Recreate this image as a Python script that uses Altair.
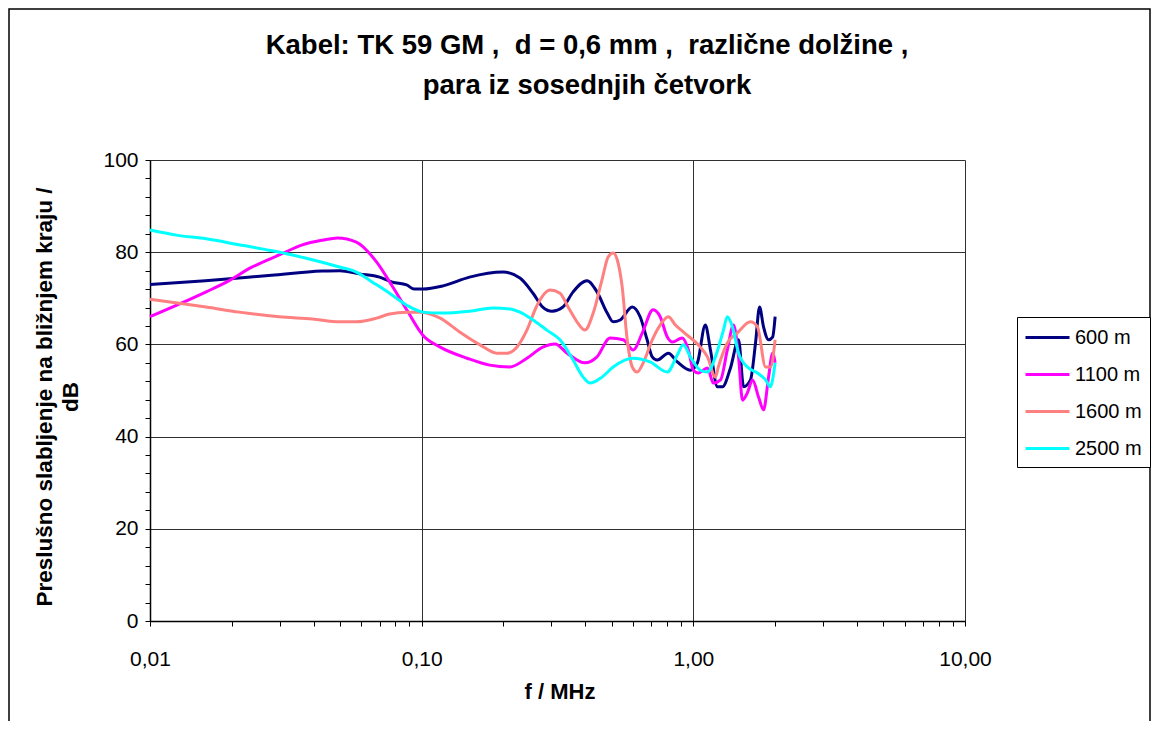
import altair as alt
import pandas as pd

FONT = "Liberation Sans"

names = ["600 m", "1100 m", "1600 m", "2500 m"]
colors = ["#000080", "#FF00FF", "#FF8080", "#00FFFF"]

f600 = [0.010, 0.016, 0.028, 0.043, 0.050, 0.059, 0.070, 0.078, 0.088, 0.094, 0.101, 0.120,
        0.150, 0.199, 0.230, 0.257, 0.279, 0.302, 0.331, 0.361, 0.406, 0.442, 0.482, 0.507,
        0.538, 0.596, 0.637, 0.676, 0.706, 0.736, 0.809, 0.873, 0.975, 1.035, 1.107, 1.156,
        1.227, 1.280, 1.370, 1.467, 1.531, 1.623, 1.694, 1.753, 1.813, 1.892, 1.958, 2.0]
v600 = [73, 73.8, 75, 75.9, 76, 75.3, 74.6, 73.5, 72.9, 72, 72, 72.7,
        74.6, 75.7, 74.4, 71.1, 68.1, 67.2, 68.1, 71.4, 73.8, 71.4, 66.8, 64.9,
        65.3, 68.1, 66, 61, 57.3, 56.6, 58.1, 56.2, 54.4, 56, 64.2, 58.8,
        50.8, 50.8, 54.9, 61, 50.8, 52.3, 60.3, 68.1, 63.8, 61, 61.6, 66]

f1100 = [0.010, 0.0131, 0.0161, 0.0191, 0.0238, 0.0299, 0.0364, 0.0431, 0.049, 0.0575,
         0.0682, 0.0782, 0.0881, 0.101, 0.117, 0.147, 0.178, 0.211, 0.244, 0.279,
         0.310, 0.343, 0.399, 0.442, 0.494, 0.552, 0.601, 0.649, 0.711, 0.755,
         0.802, 0.837, 0.910, 0.959, 1.000, 1.043, 1.127, 1.186, 1.259, 1.334,
         1.406, 1.467, 1.517, 1.581, 1.652, 1.738, 1.813, 1.892, 1.958, 2.0]
v1100 = [66, 69, 71.4, 73.5, 76.8, 79.4, 81.6, 82.6, 83.1, 82.2,
         77.9, 72.5, 67.5, 62, 59.4, 57, 55.5, 55.1, 57, 59.4,
         60.1, 58.1, 56, 57.3, 61.4, 61, 58.8, 62.5, 67.5, 66,
         61.6, 60.5, 61.4, 58.8, 54.4, 53.8, 54.9, 51.6, 52.3, 58.8,
         64.2, 57.3, 47.9, 49.5, 52.3, 48.6, 45.8, 52.9, 58.1, 56]

f1600 = [0.010, 0.0161, 0.0213, 0.0299, 0.0396, 0.0498, 0.0575, 0.0682, 0.0762, 0.0881,
         0.0983, 0.117, 0.138, 0.164, 0.189, 0.206, 0.224, 0.244, 0.266, 0.297,
         0.323, 0.346, 0.373, 0.399, 0.428, 0.461, 0.486, 0.507, 0.525, 0.547,
         0.571, 0.596, 0.621, 0.654, 0.706, 0.755, 0.809, 0.859, 0.918, 1.061,
         1.127, 1.206, 1.236, 1.334, 1.453, 1.623, 1.722, 1.845, 1.923, 2.0]
v1600 = [69.8, 68.1, 67, 66, 65.5, 64.9, 64.9, 65.7, 66.6, 67,
         67, 65.7, 62.7, 59.9, 58.1, 58.1, 59.4, 63.1, 68.5, 71.8,
         71.1, 68.1, 64.9, 63.1, 66.8, 74, 79, 79.8, 78.3, 72.5,
         61, 55.1, 54, 56, 61, 64.2, 66, 64.2, 62.7, 59.4,
         57.3, 52.9, 55.1, 60.3, 62.5, 64.9, 63.8, 55.1, 55.1, 61]

f2500 = [0.010, 0.0125, 0.0161, 0.0213, 0.0282, 0.0376, 0.0498, 0.0575, 0.0659, 0.0762,
         0.0881, 0.101, 0.117, 0.150, 0.183, 0.211, 0.230, 0.257, 0.289, 0.323,
         0.361, 0.393, 0.417, 0.461, 0.507, 0.601, 0.693, 0.802, 0.873, 0.918,
         0.975, 1.061, 1.127, 1.206, 1.291, 1.334, 1.393, 1.467, 1.581, 1.722,
         1.845, 1.923, 1.96, 2.0]
v2500 = [84.8, 83.7, 82.9, 81.6, 80.3, 78.7, 76.8, 75.7, 73.5, 71.1,
         68.5, 67, 66.8, 67.2, 67.9, 67.7, 67, 65.3, 63.1, 61,
         56.6, 52.9, 51.6, 52.9, 55.1, 57, 56.2, 54, 57.7, 59.9,
         57.3, 54.4, 54, 57.3, 63.1, 66, 63.8, 58.1, 55.1, 53.8,
         52.3, 50.8, 52.5, 56]

x_ticks = [0.01, 0.02, 0.03, 0.04, 0.05, 0.06, 0.07, 0.08, 0.09,
           0.1, 0.2, 0.3, 0.4, 0.5, 0.6, 0.7, 0.8, 0.9,
           1, 2, 3, 4, 5, 6, 7, 8, 9, 10]
y_ticks = [0, 4, 8, 12, 16, 20, 24, 28, 32, 36, 40, 44, 48, 52, 56, 60,
           64, 68, 72, 76, 80, 84, 88, 92, 96, 100]

title1 = "Kabel: TK 59 GM , \u00a0d = 0,6 mm , \u00a0različne dolžine ,"
title2 = "para iz sosednjih četvork"
ytitle1 = "Preslušno slabljenje na bližnjem kraju /"
ytitle2 = "dB"
xtitle = "f / MHz"

rows = []
for name, fs, vs in [(names[0], f600, v600), (names[1], f1100, v1100),
                     (names[2], f1600, v1600), (names[3], f2500, v2500)]:
    for i, (f, v) in enumerate(zip(fs, vs)):
        rows.append({"f": f, "dB": v, "series": name, "order": i})
df = pd.DataFrame(rows)

major_x_test = "indexof([0.01, 0.1, 1, 10], datum.value) >= 0"
major_y_test = "datum.value % 20 == 0"

x_axis = alt.Axis(
    values=x_ticks, title=None,
    labelExpr=major_x_test + " ? replace(format(datum.value, '.2f'), '.', ',') : ''",
    labelFont=FONT, labelFontSize=21, labelColor="black", labelPadding=22,
    labelOverlap=False, labelFlush=False,
    tickSize=5, tickColor="black", tickWidth=1,
    domainColor="black", domainWidth=1.5,
    grid=True, gridColor="#303030", gridWidth=1,
    gridOpacity={"condition": {"test": major_x_test, "value": 1}, "value": 0},
)
y_axis = alt.Axis(
    values=y_ticks, title=None,
    labelExpr=major_y_test + " ? datum.value : ''",
    labelFont=FONT, labelFontSize=21, labelColor="black", labelPadding=7,
    labelOverlap=False,
    tickSize=5, tickColor="black", tickWidth=1,
    domainColor="black", domainWidth=1.5,
    grid=True, gridColor="#303030", gridWidth=1,
    gridOpacity={"condition": {"test": major_y_test, "value": 1}, "value": 0},
)

lines = alt.Chart(df).mark_line(interpolate="monotone", strokeWidth=3).encode(
    x=alt.X("f:Q", scale=alt.Scale(type="log", domain=[0.01, 10], nice=False), axis=x_axis),
    y=alt.Y("dB:Q", scale=alt.Scale(domain=[0, 100], nice=False), axis=y_axis),
    color=alt.Color("series:N", sort=names,
                    scale=alt.Scale(domain=names, range=colors),
                    legend=alt.Legend(title=None, orient="none", legendX=867, legendY=157,
                                      symbolType="M-2,0H2", symbolSize=484,
                                      symbolStrokeWidth=3, symbolOffset=10,
                                      labelFont=FONT, labelFontSize=20, labelColor="black",
                                      strokeColor="black", fillColor="white",
                                      padding=8, rowPadding=14, labelOffset=15)),
    detail="series:N",
    order="order:Q",
)

one = pd.DataFrame({"a": [0]})

def label(text, x, y, size, angle=0, weight="bold"):
    kw = dict(fontSize=size, font=FONT, fontWeight=weight, color="black",
              align="center", baseline="middle")
    if angle:
        kw["angle"] = angle
    return alt.Chart(pd.DataFrame({"t": [text]})).mark_text(**kw).encode(
        text="t:N", x=alt.value(x), y=alt.value(y))

frame = alt.Chart(one).mark_rect(fillOpacity=0, stroke="black", strokeWidth=1.5).encode(
    x=alt.value(-141), x2=alt.value(1000), y=alt.value(-151), y2=alt.value(600))

chart = alt.layer(
    frame,
    lines,
    label(title1, 437, -114, 27.5),
    label(title2, 437, -74, 27.5),
    label(ytitle1, -105, 237, 22.5, angle=270),
    label(ytitle2, -79, 237, 22.5, angle=270),
    label(xtitle, 410, 532, 22),
).properties(
    width=815, height=461,
    autosize=alt.AutoSizeParams(type="none"),
    padding={"left": 142, "top": 152, "right": 186, "bottom": 100},
    background="white",
).configure_view(strokeWidth=0)

chart.save("out.html", embed_options={"renderer": "svg", "actions": False})
